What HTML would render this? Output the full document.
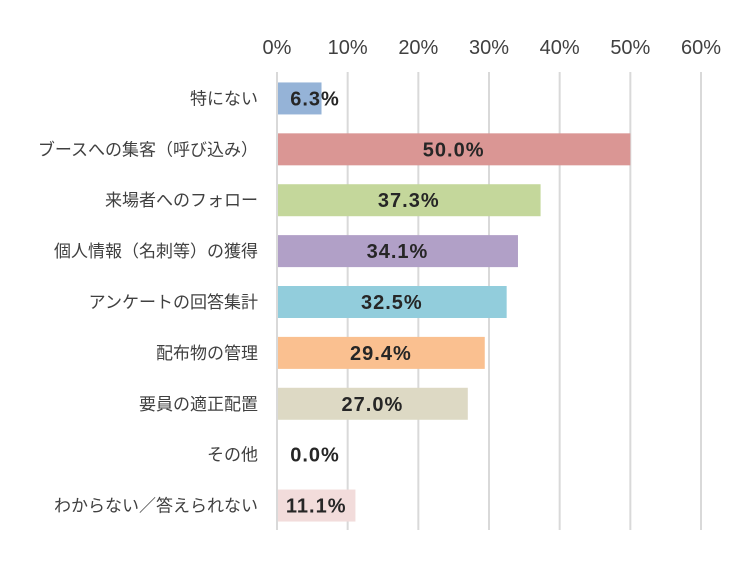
<!DOCTYPE html>
<html><head><meta charset="utf-8"><style>
body{margin:0;background:#fff;}
svg{display:block;font-family:"Liberation Sans","Noto Sans CJK JP",sans-serif;}
</style></head><body>
<svg id="chart" width="749" height="578"></svg>
<script>
const categories=["特にない","ブースへの集客（呼び込み）","来場者へのフォロー","個人情報（名刺等）の獲得","アンケートの回答集計","配布物の管理","要員の適正配置","その他","わからない／答えられない"];
const values=[6.3,50.0,37.3,34.1,32.5,29.4,27.0,0.0,11.1];
const ticks=[0,10,20,30,40,50,60];
const colors=["#95B3D7","#DA9694","#C4D79B","#B1A0C7","#92CDDC","#FAC090","#DDD9C4","#CCCCCC","#F2DCDB"];
const NS="http://www.w3.org/2000/svg";
const svgEl=document.getElementById("chart");
const x0=277,x1=701,plotTop=72,plotBottom=530;
const xs=v=>x0+(v/60)*(x1-x0);
const band=(plotBottom-plotTop)/categories.length;
const yc=i=>plotTop+band*(i+0.5)+1;
function mk(t,a){const e=document.createElementNS(NS,t);for(const k in a)e.setAttribute(k,a[k]);svgEl.appendChild(e);return e;}
ticks.forEach(t=>{
 const g=mk("line",{x1:xs(t),x2:xs(t),y1:plotTop,y2:plotBottom,stroke:"#D9D9D9","stroke-width":2});
 
 
 const l=mk("text",{x:xs(t),y:54,"text-anchor":"middle","font-size":20,fill:"#404040"});
 l.textContent=t+"%";
 
 
});
categories.forEach((c,i)=>{
 const y=yc(i);
 const r=mk("rect",{x:x0+1,y:y-16,width:Math.max(0,xs(values[i])-x0-1),height:32,fill:colors[i]});
 
 
 const t=mk("text",{x:258,y:y+6,"text-anchor":"end","font-size":17,fill:"#404040"});
 t.textContent=c;
 
 
 const cx=Math.max((x0+xs(values[i]))/2,315);
 const v=mk("text",{x:cx,y:y+7,"text-anchor":"middle","font-size":20,"font-weight":"bold","letter-spacing":1,fill:"#262626"});
 v.textContent=values[i].toFixed(1)+"%";
 
 
});
</script>
</body></html>
